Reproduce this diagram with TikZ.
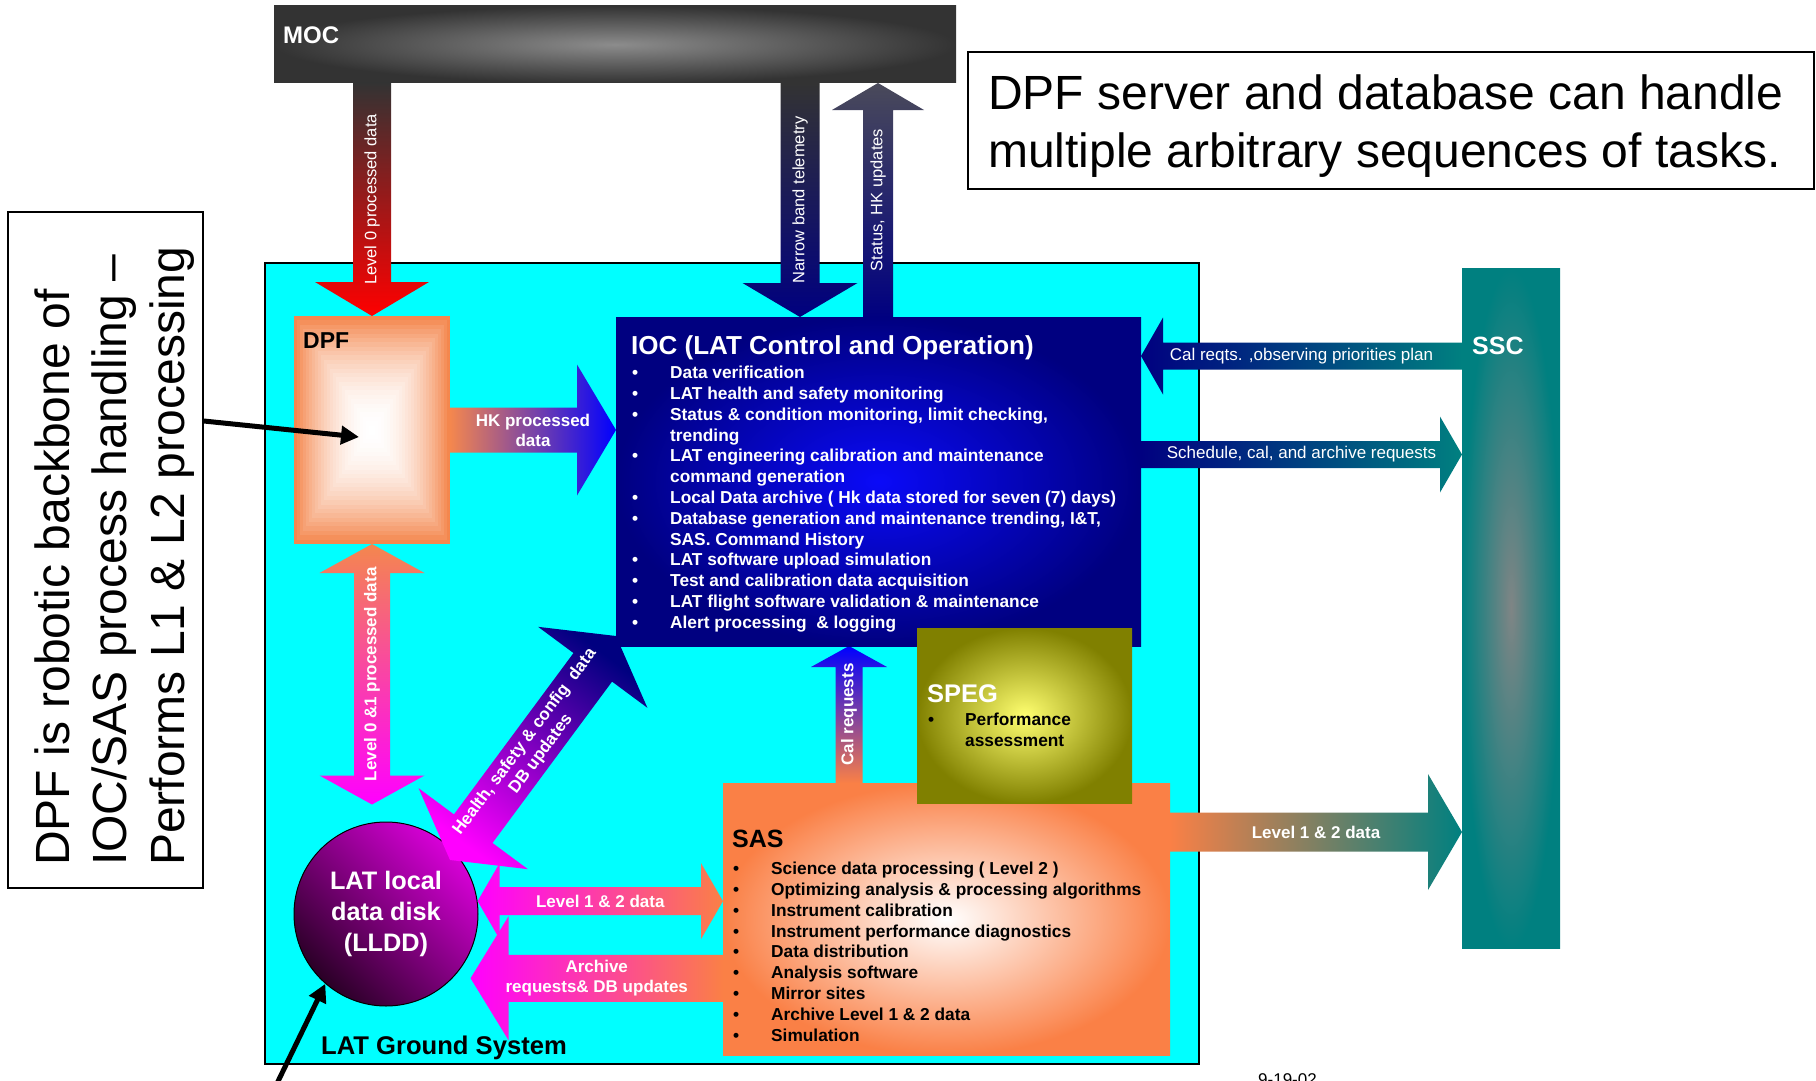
\documentclass[tikz,border=0pt]{standalone}
\usepackage{fontspec}
\setmainfont{Liberation Sans}
\usetikzlibrary{positioning,calc,arrows.meta}

\definecolor{groundcyan}{HTML}{00FFFF}
\definecolor{mocgray}{HTML}{333333}
\definecolor{mocglow}{HTML}{8C8C8C}
\definecolor{iocnavy}{HTML}{000080}
\definecolor{iocblue}{HTML}{0A0AF8}
\definecolor{sasorange}{HTML}{FA8046}
\definecolor{dpforange}{HTML}{F4874E}
\definecolor{spegolive}{HTML}{808000}
\definecolor{spegyellow}{HTML}{FFFF70}
\definecolor{sscteal}{HTML}{008080}
\definecolor{sscgray}{HTML}{7F8585}
\definecolor{diskdark}{HTML}{2A0026}
\definecolor{diskbright}{HTML}{D800D8}
\definecolor{flowred}{HTML}{FF0000}
\definecolor{flowmagenta}{HTML}{FF00FF}
\definecolor{flowblue}{HTML}{0000FF}
\definecolor{statusgray}{HTML}{4A4A5A}

\newcommand{\setpx}[2]{\fontsize{#1}{#2}\selectfont}

% fat block arrow: [shading]{tail}{tip}{half shaft}{half head}{head length}
\newcommand{\flowarrow}[6][]{%
  \shade[#1] let \p1=(#2), \p2=(#3),
    \n1={atan2(\y2-\y1,\x2-\x1)}, \n2={veclen(\x2-\x1,\y2-\y1)} in
    [shift={(\p1)}, rotate=\n1]
    (0,#4) -- (\n2-#6,#4) -- (\n2-#6,#5) -- (\n2,0)
    -- (\n2-#6,-#5) -- (\n2-#6,-#4) -- (0,-#4) -- cycle;}
% same, with a head at both ends
\newcommand{\flowboth}[6][]{%
  \shade[#1] let \p1=(#2), \p2=(#3),
    \n1={atan2(\y2-\y1,\x2-\x1)}, \n2={veclen(\x2-\x1,\y2-\y1)} in
    [shift={(\p1)}, rotate=\n1]
    (0,0) -- (#6,#5) -- (#6,#4) -- (\n2-#6,#4) -- (\n2-#6,#5) -- (\n2,0)
    -- (\n2-#6,-#5) -- (\n2-#6,-#4) -- (#6,-#4) -- (#6,-#5) -- cycle;}

\pgfdeclarelayer{base}
\pgfdeclarelayer{flow}
\pgfsetlayers{base,flow,main}

\tikzset{
  block/.style={rectangle, inner sep=0pt, outer sep=0pt},
  glow/.style 2 args={path picture={
      \shade[inner color=#1, outer color=#2,
        scale around={1.9:(path picture bounding box.center)}]
        (path picture bounding box.south west) rectangle (path picture bounding box.north east);}},
  disk/.style={circle, draw=black, line width=1pt, inner sep=0pt, minimum size=184pt,
    text=white, align=center, font=\setpx{25.3}{31}\bfseries,
    path picture={\shade[top color=diskbright, bottom color=diskdark, shading angle=-45]
      (path picture bounding box.south west) rectangle (path picture bounding box.north east);}},
  boxtitle/.style={anchor=base west, inner sep=0pt, font=\setpx{26}{31}\bfseries},
  boxitems/.style={anchor=north west, inner sep=0pt, font=\setpx{17.3}{20.8}\bfseries},
  notebox/.style={draw=black, line width=1.5pt, inner sep=0pt},
  notetext/.style={anchor=north west, inner sep=0pt, font=\setpx{48}{57.5}},
  flowlabel/.style={text=white, inner sep=0pt, align=center, font=\setpx{17}{20}\bfseries},
  flowplain/.style={text=white, inner sep=0pt, align=center, font=\setpx{17}{20}},
  pointer/.style={line width=5pt, -{Triangle[length=18pt,width=18pt]}},
}

\begin{document}
\begin{tikzpicture}[x=1pt, y=-1pt]
\useasboundingbox (0,0) rectangle (1816,1081);
\clip (0,0) rectangle (1816,1081);

\begin{pgfonlayer}{base}
% ground system frame, MOC bar, local disk
\node[block, fill=groundcyan, draw=black, line width=1.2pt, minimum width=934pt, minimum height=801pt] (ground) at (732,663.5) {};
\node[block, fill=mocgray, glow={mocglow}{mocgray}, minimum width=682pt, minimum height=77pt] (moc) at (615,44.5) {};
\node[disk] (lldd) at (386,914) {LAT local\\data disk\\(LLDD)};
\end{pgfonlayer}

\node[boxtitle, text=white, font=\setpx{24}{28}\bfseries] (mocTitle) at ([shift={(9,38)}]moc.north west) {MOC};

% DPF: nested rectangles, orange rim to white core
\node[block, fill=dpforange, minimum width=156pt, minimum height=228pt] (dpf) at (372,430) {};
\foreach \i [evaluate=\i as \pct using {100*(1-\i/26)^2}] in {0,...,25}
  \fill[dpforange!\pct!white] ([shift={(3*\i,4.38*\i)}]dpf.north west) rectangle ([shift={(-3*\i,-4.38*\i)}]dpf.south east);
\node[boxtitle, font=\setpx{23}{27}\bfseries] (dpfTitle) at ([shift={(9,32)}]dpf.north west) {DPF};

% IOC
\node[block, fill=iocnavy, glow={iocblue}{iocnavy}, minimum width=525pt, minimum height=329pt] (ioc) at (878.5,481.5) {};
\node[boxtitle, text=white] (iocTitle) at ([shift={(15,37)}]ioc.north west) {IOC (LAT Control and Operation)};
\node[boxitems, text=white] (iocItems) at ([shift={(16,47)}]ioc.north west) {\begin{tabular}{@{}p{38pt}@{}l@{}}
\textbullet & Data verification\\
\textbullet & LAT health and safety monitoring\\
\textbullet & Status \& condition monitoring, limit checking,\\
 & trending\\
\textbullet & LAT engineering calibration and maintenance\\
 & command generation\\
\textbullet & Local Data archive ( Hk data stored for seven (7) days)\\
\textbullet & Database generation and maintenance trending, I\&T,\\
 & SAS. Command History\\
\textbullet & LAT software upload simulation\\
\textbullet & Test and calibration data acquisition\\
\textbullet & LAT flight software validation \& maintenance\\
\textbullet & Alert processing~ \& logging
\end{tabular}};

% SAS
\node[block, fill=sasorange, glow={white}{sasorange}, minimum width=447pt, minimum height=272pt] (sas) at (946.5,919) {};
\node[boxtitle, font=\setpx{25}{30}\bfseries] (sasTitle) at ([shift={(9,64)}]sas.north west) {SAS};
\node[boxitems] (sasItems) at ([shift={(10,77)}]sas.north west) {\begin{tabular}{@{}p{38pt}@{}l@{}}
\textbullet & Science data processing ( Level 2 )\\
\textbullet & Optimizing analysis \& processing algorithms\\
\textbullet & Instrument calibration\\
\textbullet & Instrument performance diagnostics\\
\textbullet & Data distribution\\
\textbullet & Analysis software\\
\textbullet & Mirror sites\\
\textbullet & Archive Level 1 \& 2 data\\
\textbullet & Simulation
\end{tabular}};

% SPEG
\node[block, fill=spegolive, glow={spegyellow}{spegolive}, minimum width=215pt, minimum height=175pt] (speg) at (1024.5,715.5) {};
\node[boxtitle, text=white, font=\setpx{25.5}{30}\bfseries] (spegTitle) at ([shift={(10,74)}]speg.north west) {SPEG};
\node[boxitems] (spegItems) at ([shift={(11,83)}]speg.north west) {\begin{tabular}{@{}p{37pt}@{}l@{}}
\textbullet & Performance\\
 & assessment
\end{tabular}};

% SSC
\node[block, fill=sscteal, glow={sscgray}{sscteal}, minimum width=98pt, minimum height=680pt] (ssc) at (1511,608) {};
\node[boxtitle, text=white, font=\setpx{25}{30}\bfseries] (sscTitle) at ([shift={(10,86)}]ssc.north west) {SSC};

\node[anchor=base west, inner sep=0pt, font=\setpx{25.6}{30}\bfseries] (groundTitle) at ([shift={(56,-10)}]ground.south west) {LAT Ground System};

% arrow end points
\coordinate (nbTip) at ([shift={(184,0)}]ioc.north west);
\coordinate (nbTail) at (moc.south -| nbTip);
\coordinate (hkFoot) at ([shift={(262,0)}]ioc.north west);
\coordinate (hkTop) at (moc.south -| hkFoot);
\coordinate (diskTop) at ([shift={(0,-17)}]lldd.north);
\coordinate (healthLow) at ([shift={(64,-54)}]lldd.center);
\coordinate (healthHigh) at ([shift={(0,-10)}]ioc.south west);
\coordinate (calFoot) at ([shift={(126,0)}]sas.north west);
\coordinate (archEnd) at ([shift={(18,0)}]lldd.-44);
\coordinate (planStart) at ([shift={(0,88)}]ssc.north west);
\coordinate (schedStart) at ([shift={(0,-27)}]ioc.east);
\coordinate (outStart) at ([shift={(0,-87)}]sas.east);

\begin{pgfonlayer}{flow}
\flowarrow[top color=mocgray, bottom color=flowred]{moc.south -| dpf.north}{dpf.north}{19}{57}{34}
\flowarrow[top color=mocgray, bottom color=iocnavy]{nbTail}{nbTip}{19.5}{57.5}{34}
\flowarrow[top color=statusgray, bottom color=iocnavy]{hkFoot}{hkTop}{15}{46}{27}
\flowarrow[left color=dpforange, right color=flowblue]{dpf.east}{ioc.west |- dpf.east}{22.5}{65.5}{39}
\flowboth[top color=dpforange, bottom color=flowmagenta]{dpf.south}{diskTop -| dpf.south}{18}{52.5}{29}
\flowboth[top color=iocnavy, bottom color=flowmagenta, shading angle=-36.7]{healthLow}{healthHigh}{24}{68}{39}
\flowarrow[top color=flowblue, bottom color=sasorange]{calFoot}{ioc.south -| calFoot}{13.5}{38}{21}
\flowboth[left color=flowmagenta, right color=sasorange]{lldd.8}{sas.west |- lldd.8}{14}{38}{22}
\flowarrow[left color=flowmagenta, right color=sasorange]{sas.west |- archEnd}{archEnd}{23.5}{62}{38}
\flowarrow[left color=iocnavy, right color=sscteal]{planStart}{ioc.east |- planStart}{13.5}{38.5}{22}
\flowarrow[left color=iocnavy, right color=sscteal]{schedStart}{ssc.west |- schedStart}{13.5}{38}{22}
\flowarrow[left color=sasorange, right color=sscteal]{outStart}{ssc.west |- outStart}{19.5}{58}{34}
\end{pgfonlayer}

% arrow labels
\node[flowplain, rotate=90, font=\setpx{16.5}{20}] (lvl0Lbl) at ($(moc.south -| dpf.north)!.5!(dpf.north)$) {Level 0 processed data};
\node[flowplain, rotate=90, font=\setpx{16.5}{20}] (nbLbl) at ($(nbTail)!.5!(nbTip)$) {Narrow band telemetry};
\node[flowplain, rotate=90, font=\setpx{16.5}{20}] (hkLbl) at ($(hkFoot)!.5!(hkTop)$) {Status, HK updates};
\node[flowlabel] (hkpLbl) at ($(dpf.east)!.5!(ioc.west |- dpf.east)$) {HK processed\\data};
\node[flowlabel, rotate=90] (lvl01Lbl) at ($(dpf.south)!.5!(diskTop -| dpf.south)$) {Level 0 \&1 processed data};
\node[flowlabel, rotate=53.3] (healthLbl) at ($(healthLow)!.5!(healthHigh)$) {Health, safety \& config~ data\\DB updates};
\node[flowlabel, rotate=90] (calLbl) at ($(calFoot)!.5!(ioc.south -| calFoot)$) {Cal requests};
\node[flowlabel] (lvl12Lbl) at ($(lldd.8)!.5!(sas.west |- lldd.8)$) {Level 1 \& 2 data};
\node[flowlabel] (archLbl) at ($(archEnd)!.5!(sas.west |- archEnd)$) {Archive\\requests\& DB updates};
\node[flowplain] (planLbl) at ($(planStart)!.5!(ioc.east |- planStart)$) {Cal reqts. ,observing priorities plan};
\node[flowplain] (schedLbl) at ($(schedStart)!.5!(ssc.west |- schedStart)$) {Schedule, cal, and archive requests};
\node[flowlabel] (outLbl) at ($(outStart)!.5!(ssc.west |- outStart)$) {Level 1 \& 2 data};

% side notes
\node[notebox, minimum width=846pt, minimum height=137pt] (noteTop) at (1391,120.5) {};
\node[notetext] (noteTopText) at (988,69.4) {\begin{tabular}{@{}l@{}}DPF server and database can handle\\multiple arbitrary sequences of tasks.\end{tabular}};
\node[notebox, minimum width=195pt, minimum height=676pt] (noteLeft) at (105.5,550) {};
\node[notetext, rotate=90] (noteLeftText) at (29,866) {\begin{tabular}{@{}l@{}}DPF is robotic backbone of\\IOC/SAS process handling --\\Performs L1 \& L2 processing\end{tabular}};

% pointers
\coordinate (noteOut) at ([shift={(0,-129)}]noteLeft.east);
\coordinate (diskTail) at (268,1102);
\draw[pointer] (noteOut) -- ([shift={(-13,7)}]dpf.center);
\draw[pointer] (diskTail) -- (lldd.229);

\node[anchor=base west, inner sep=0pt, font=\setpx{17}{20}] (date) at (1258,1085) {9-19-02};
\end{tikzpicture}
\end{document}
